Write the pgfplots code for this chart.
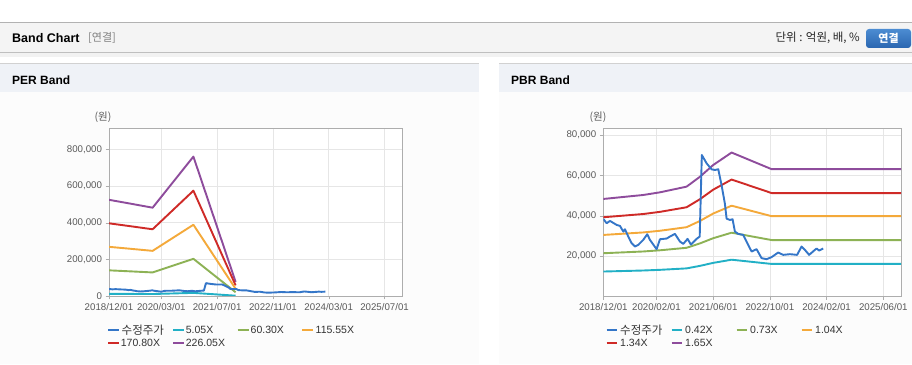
\documentclass[border=0pt]{standalone}
\usepackage{pgfplots}
\pgfplotsset{compat=1.18}
\usepackage{fontspec}
\setmainfont{Liberation Sans}
\newfontfamily\kr{Noto Sans CJK KR}
\definecolor{cPrice}{HTML}{3476C8}
\definecolor{cCyan}{HTML}{22B0C6}
\definecolor{cGreen}{HTML}{8DB255}
\definecolor{cOrange}{HTML}{F4A93A}
\definecolor{cRed}{HTML}{CF2A27}
\definecolor{cPurple}{HTML}{8E4C9C}
\definecolor{hdr}{HTML}{F4F4F4}
\definecolor{phdr}{HTML}{EFF2F7}
\definecolor{pbody}{HTML}{FCFCFC}
\definecolor{btnTop}{HTML}{4C8CD2}
\definecolor{btnBot}{HTML}{2A66B0}
\definecolor{tickc}{HTML}{5A5A5A}
\definecolor{gridc}{HTML}{E6E6E6}
\definecolor{axc}{HTML}{ADADAD}

\pgfplotstableread{
m v
0 38370
0.94 36225
1.88 37380
3.76 35400
4.7 34900
5.64 32100
6.11 33250
7.05 29625
7.99 26325
8.93 24675
9.87 25500
11.28 28000
12.4 30780
13.16 27975
15.04 23355
15.98 28300
17.86 28635
18.8 29625
20.21 30945
21.62 27150
22.56 25995
23.78 28470
24.72 25665
26.32 28470
27.2 29625
27.8 70050
29.15 65925
30.56 62955
31.5 62625
32.44 63000
33.38 55000
34.3 46000
34.79 38500
35.72 37870
36.48 38200
37.13 32100
38.06 30940
39.47 30450
40.88 25500
41.84 22200
43.25 23370
44.66 18910
46.07 18420
47.48 19410
49.34 21700
50.75 20550
52.64 20880
54.69 20550
55.94 24670
56.87 23040
58.08 20550
60.16 23700
60.9 22700
62.03 23700
}\price

\pgfplotstableread{
m p505 p6030 p11555 p17080 p22605
0 11716 139896 268076 396256 524436
6 11262 134469 257677 380884 504092
12.5 10757 128439 246122 363804 481487
24.2 16978 202729 388479 574230 759980
36.3 1717 20502 39287 58072 76857
}\perband

\pgfplotstableread{
m b042 b073 b104 b134 b165
0 12285 21353 30420 39195 48263
11.3 12789 22229 31668 40803 50243
16 13125 22813 32500 41875 51563
23.5 13839 24054 34268 44153 54368
27.3 15099 26244 37388 48173 59318
31 16569 28799 41028 52863 65093
36.2 18144 31536 44928 57888 71280
47.5 16044 27886 39728 51188 63030
84 16044 27886 39728 51188 63030
}\pbrband

\pgfplotsset{
  bandaxis/.style={
    scale only axis, anchor=south west,
    height=168pt,
    xmin=0, xmax=84, ymin=0,
    axis background/.style={fill=white},
    axis line style={axc},
    grid=major, major grid style={gridc, line width=0.6pt},
    xtick pos=lower, ytick pos=left,
    tick align=outside, major tick length=3.5pt,
    tick style={axc},
    ticklabel style={font=\fontsize{9.7}{11}\selectfont, text=tickc},
    /pgf/number format/assume math mode=true,
    /pgf/number format/fixed,
    /pgf/number format/precision=0,
    /pgf/number format/1000 sep={,},
    scaled y ticks=false,
    xtick={0,15,31,47,63,79},
    every axis plot/.append style={line width=1.9pt, line join=round, no markers},
    clip=true,
  }
}

\begin{document}
\begin{tikzpicture}[x=1pt,y=1pt]
\useasboundingbox (0,0) rectangle (912,364);
\fill[white] (0,0) rectangle (912,364);
% top header
\fill[hdr] (0,312) rectangle (912,341);
\draw[black!30, line width=1pt] (0,341.5) -- (912,341.5);
\fill[black!5] (0,307) rectangle (912,311);
\draw[black!25, line width=1pt] (0,311.5) -- (912,311.5);
\node[anchor=west, inner sep=0, font=\bfseries\fontsize{12.5}{14}\selectfont] at (12,326) {Band Chart};
\node[anchor=west, inner sep=0, text=black!50, font=\kr\fontsize{11}{12}\selectfont] at (88,326) {[연결]};
\node[anchor=east, inner sep=0, text=black!85, font=\kr\fontsize{11.5}{13}\selectfont] at (860,326) {단위 : 억원, 배, \%};
\shade[top color=btnTop, bottom color=btnBot, rounded corners=3pt] (866,316) rectangle (911,335);
\node[inner sep=0, text=white, font=\kr\bfseries\fontsize{11}{12}\selectfont] at (888.5,325.5) {연결};

% panels
\foreach \xa/\xb in {0/479, 499/912}{
  \fill[phdr] (\xa,272) rectangle (\xb,300);
  \draw[black!18, line width=1pt] (\xa,300.5) -- (\xb,300.5);
  \fill[pbody] (\xa,0) rectangle (\xb,271.5);
}
\node[anchor=west, inner sep=0, font=\bfseries\fontsize{12}{14}\selectfont] at (12,284) {PER Band};
\node[anchor=west, inner sep=0, font=\bfseries\fontsize{12}{14}\selectfont] at (511,284) {PBR Band};

\node[inner sep=0, text=tickc, font=\kr\fontsize{10.5}{12}\selectfont] at (103,247) {(원)};
\node[inner sep=0, text=tickc, font=\kr\fontsize{10.5}{12}\selectfont] at (598,247) {(원)};

% PER chart
\begin{axis}[bandaxis, at={(109pt,68pt)}, width=293pt, ymax=916000,
  ytick={0,200000,400000,600000,800000},
  xticklabels={2018/12/01,2020/03/01,2021/07/01,2022/11/01,2024/03/01,2025/07/01}]
\addplot[cPurple] table[x=m,y=p22605] {\perband};
\addplot[cRed] table[x=m,y=p17080] {\perband};
\addplot[cOrange] table[x=m,y=p11555] {\perband};
\addplot[cGreen] table[x=m,y=p6030] {\perband};
\addplot[cCyan] table[x=m,y=p505] {\perband};
\addplot[cPrice] table[x=m,y=v] {\price};
\end{axis}

% PBR chart
\begin{axis}[bandaxis, at={(603.3pt,67.7pt)}, width=297.7pt, ymax=83300,
  ytick={20000,40000,60000,80000},
  xticklabels={2018/12/01,2020/02/01,2021/06/01,2022/10/01,2024/02/01,2025/06/01}]
\addplot[cPurple] table[x=m,y=b165] {\pbrband};
\addplot[cRed] table[x=m,y=b134] {\pbrband};
\addplot[cOrange] table[x=m,y=b104] {\pbrband};
\addplot[cGreen] table[x=m,y=b073] {\pbrband};
\addplot[cCyan] table[x=m,y=b042] {\pbrband};
\addplot[cPrice] table[x=m,y=v] {\price};
\end{axis}

% legends
\tikzset{lgt/.style={anchor=west, inner sep=0, text=black!80, font=\fontsize{10.5}{12}\selectfont},
         lgk/.style={anchor=west, inner sep=0, text=black!80, font=\kr\fontsize{11.5}{13}\selectfont}}
% PER legend
\draw[cPrice, line width=1.8pt] (108,34) -- (119,34);
\node[lgk] at (121.5,34) {수정주가};
\draw[cCyan, line width=1.8pt] (173,34) -- (184,34);
\node[lgt] at (185.7,34) {5.05X};
\draw[cGreen, line width=1.8pt] (237.5,34) -- (248.5,34);
\node[lgt] at (250.5,34) {60.30X};
\draw[cOrange, line width=1.8pt] (302,34) -- (313,34);
\node[lgt] at (315.5,34) {115.55X};
\draw[cRed, line width=1.8pt] (108,20.7) -- (119,20.7);
\node[lgt] at (120.7,20.7) {170.80X};
\draw[cPurple, line width=1.8pt] (173,20.7) -- (184,20.7);
\node[lgt] at (185.7,20.7) {226.05X};
% PBR legend
\draw[cPrice, line width=1.8pt] (606.7,34) -- (617.3,34);
\node[lgk] at (620,34) {수정주가};
\draw[cCyan, line width=1.8pt] (671.7,34) -- (682.3,34);
\node[lgt] at (685,34) {0.42X};
\draw[cGreen, line width=1.8pt] (736.7,34) -- (747.3,34);
\node[lgt] at (750,34) {0.73X};
\draw[cOrange, line width=1.8pt] (801.7,34) -- (812.3,34);
\node[lgt] at (815,34) {1.04X};
\draw[cRed, line width=1.8pt] (606.7,20.7) -- (617.3,20.7);
\node[lgt] at (620,20.7) {1.34X};
\draw[cPurple, line width=1.8pt] (671.7,20.7) -- (682.3,20.7);
\node[lgt] at (685,20.7) {1.65X};
\end{tikzpicture}
\end{document}
